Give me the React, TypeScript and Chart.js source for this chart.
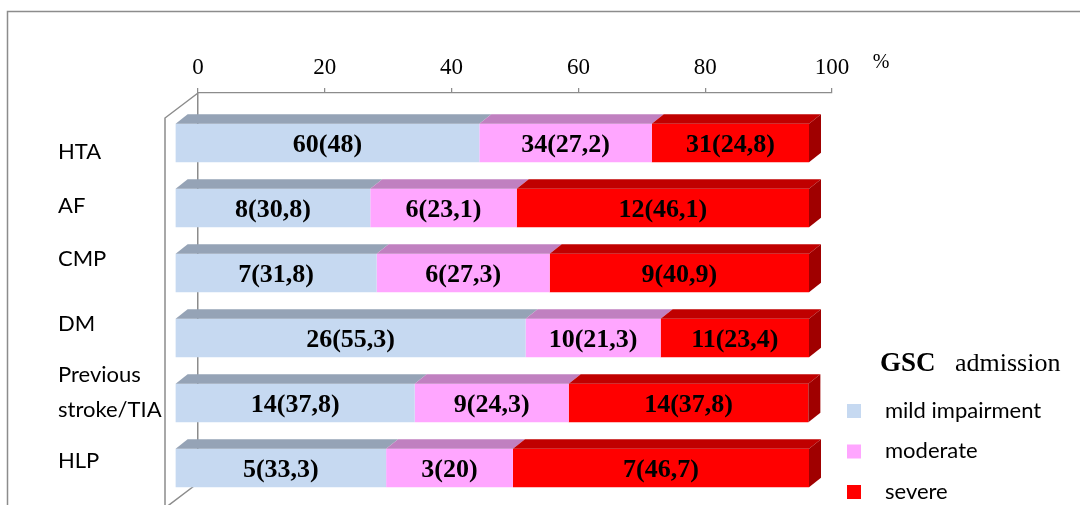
import { useEffect, useRef } from "react";
import { Chart, registerables } from "chart.js";

Chart.register(...registerables);

// Risk factors (rows of the chart)
const categories: (string | string[])[] = ["HTA", "AF", "CMP", "DM", ["Previous", "stroke/TIA"], "HLP"];
// GSC admission groups
const seriesNames = ["mild impairment", "moderate", "severe"];
// Patient counts per group
const mildCount = [60, 8, 7, 26, 14, 5];
const moderateCount = [34, 6, 6, 10, 9, 3];
const severeCount = [31, 12, 9, 11, 14, 7];
// Share of patients per group (%)
const mildPct = [48, 30.8, 31.8, 55.3, 37.8, 33.3];
const moderatePct = [27.2, 23.1, 27.3, 21.3, 24.3, 20];
const severePct = [24.8, 46.1, 40.9, 23.4, 37.8, 46.7];
// Percent axis
const xMin = 0;
const xMax = 100;
const xStep = 20;

const countSeries = [mildCount, moderateCount, severeCount];
const pctSeries = [mildPct, moderatePct, severePct];

const frontColors = ["#C6D9F1", "#FFA6FF", "#FF0000"];
const topColors = ["#95A3B6", "#C080C0", "#C00000"];
const sideColors = ["#7F8C9C", "#A060A0", "#A00000"];

const GRAY = "#8C8C8C";
const SERIF = "'Liberation Serif', 'Times New Roman', serif";
const SANS = "Lato, 'Noto Sans', sans-serif";

// bars sit in front of the back wall: shifted toward the viewer
const SHIFT_X = -23;
const SHIFT_Y = 17.5;
// bar depth (top / side faces)
const DEPTH_X = 12;
const DEPTH_Y = -9.5;
// wall depth
const WALL_X = -33;
const WALL_Y = 25;
// vertical nudges for the row captions
const captionNudge = [26, 15.5, 3.5, 3.5, 7, 10.5];

const fmtPct = (v: number) => String(v).replace(".", ",");

const framePlugin = {
  id: "frame",
  beforeDraw(chart: any) {
    const { ctx, chartArea } = chart;
    ctx.save();
    ctx.strokeStyle = GRAY;
    ctx.lineWidth = 1.5;
    // outer box
    ctx.strokeRect(7.5, 11.5, 2000, 2000);
    // side wall and floor edges
    const l = chartArea.left;
    ctx.beginPath();
    ctx.moveTo(l, chartArea.top);
    ctx.lineTo(l + WALL_X, chartArea.top + WALL_Y);
    ctx.lineTo(l + WALL_X, chartArea.bottom + WALL_Y);
    ctx.lineTo(l, chartArea.bottom);
    ctx.stroke();
    ctx.restore();
  },
};

const barsPlugin = {
  id: "bars3d",
  beforeDatasetsDraw(chart: any) {
    chart.ctx.save();
    chart.ctx.translate(SHIFT_X, SHIFT_Y);
  },
  afterDatasetsDraw(chart: any) {
    const ctx = chart.ctx;
    const n = chart.data.datasets.length;
    chart.data.datasets.forEach((_ds: any, di: number) => {
      const meta = chart.getDatasetMeta(di);
      meta.data.forEach((el: any) => {
        const { x, y, base, height } = el.getProps(["x", "y", "base", "height"], true);
        const left = Math.min(base, x);
        const right = Math.max(base, x);
        const top = y - height / 2;
        const bottom = y + height / 2;
        ctx.fillStyle = topColors[di];
        ctx.beginPath();
        ctx.moveTo(left, top);
        ctx.lineTo(right, top);
        ctx.lineTo(right + DEPTH_X, top + DEPTH_Y);
        ctx.lineTo(left + DEPTH_X, top + DEPTH_Y);
        ctx.closePath();
        ctx.fill();
        if (di === n - 1) {
          ctx.fillStyle = sideColors[di];
          ctx.beginPath();
          ctx.moveTo(right, top);
          ctx.lineTo(right + DEPTH_X, top + DEPTH_Y);
          ctx.lineTo(right + DEPTH_X, bottom + DEPTH_Y);
          ctx.lineTo(right, bottom);
          ctx.closePath();
          ctx.fill();
        }
      });
    });
    // value labels: count(percent)
    ctx.fillStyle = "#000";
    ctx.font = `bold 26px ${SERIF}`;
    ctx.textAlign = "center";
    ctx.textBaseline = "middle";
    chart.data.datasets.forEach((_ds: any, di: number) => {
      const meta = chart.getDatasetMeta(di);
      meta.data.forEach((el: any, i: number) => {
        const { x, y, base } = el.getProps(["x", "y", "base"], true);
        const text = `${countSeries[di][i]}(${fmtPct(pctSeries[di][i])})`;
        ctx.fillText(text, (x + base) / 2, y + 2);
      });
    });
    ctx.restore();
  },
};

const annotatePlugin = {
  id: "annotate",
  afterDraw(chart: any) {
    const { ctx, chartArea } = chart;
    const yScale = chart.scales.y;
    ctx.save();
    // row captions
    ctx.fillStyle = "#000";
    ctx.font = `22px ${SANS}`;
    ctx.textAlign = "left";
    ctx.textBaseline = "middle";
    categories.forEach((c, i) => {
      const cy = yScale.getPixelForValue(i) + captionNudge[i];
      const lines = Array.isArray(c) ? c : [c];
      const lh = 35;
      lines.forEach((ln, k) => {
        ctx.fillText(ln, 58, cy + (k - (lines.length - 1) / 2) * lh);
      });
    });
    // unit
    ctx.font = `20px ${SERIF}`;
    ctx.textAlign = "center";
    ctx.fillText("%", chartArea.right + 49, 63);
    // legend title
    ctx.textAlign = "left";
    ctx.textBaseline = "alphabetic";
    ctx.font = `bold 27px ${SERIF}`;
    ctx.fillText("GSC", 880, 371);
    ctx.font = `26px ${SERIF}`;
    ctx.fillText("admission", 955, 371);
    // legend entries
    ctx.font = `22px ${SANS}`;
    chart.data.datasets.forEach((ds: any, di: number) => {
      const top = 404 + di * 40.5;
      ctx.fillStyle = ds.backgroundColor;
      ctx.fillRect(847, top, 14, 14);
      ctx.fillStyle = "#000";
      ctx.fillText(ds.label, 885, top + 13.5);
    });
    ctx.restore();
  },
};

export default function App() {
  const ref = useRef<HTMLCanvasElement | null>(null);

  useEffect(() => {
    if (!ref.current) return;
    const chart = new Chart(ref.current, {
      type: "bar",
      data: {
        labels: categories,
        datasets: pctSeries.map((vals, i) => ({
          label: seriesNames[i],
          data: vals,
          backgroundColor: frontColors[i],
          borderWidth: 0,
          categoryPercentage: 1,
          barPercentage: 0.592,
          clip: false as any,
        })),
      },
      options: {
        indexAxis: "y",
        animation: false,
        responsive: false,
        events: [],
        layout: { padding: { left: 198, right: 248, top: 43, bottom: 22 } },
        plugins: {
          legend: { display: false },
          tooltip: { enabled: false },
          title: { display: false },
        },
        scales: {
          x: {
            position: "top",
            stacked: true,
            min: xMin,
            max: xMax,
            afterFit: (s: any) => {
              s.height = 50;
            },
            ticks: {
              stepSize: xStep,
              color: "#000",
              padding: 6,
              maxRotation: 0,
              font: { family: SERIF, size: 23 },
            },
            grid: {
              drawOnChartArea: false,
              drawTicks: true,
              tickLength: 5,
              color: GRAY,
              lineWidth: 1.25,
            },
            border: { display: true, color: GRAY, width: 1.25 },
          },
          y: {
            position: "left",
            stacked: true,
            ticks: { display: false },
            grid: { display: false, drawTicks: false },
            border: { display: true, color: GRAY, width: 1.5 },
          },
        },
      },
      plugins: [framePlugin, barsPlugin, annotatePlugin],
    });
    return () => chart.destroy();
  }, []);

  return (
    <div style={{ position: "fixed", left: 0, top: 0, width: 1080, height: 505, background: "#fff", overflow: "hidden" }}>
      <canvas ref={ref} width={1080} height={505} style={{ display: "block" }} />
    </div>
  );
}
